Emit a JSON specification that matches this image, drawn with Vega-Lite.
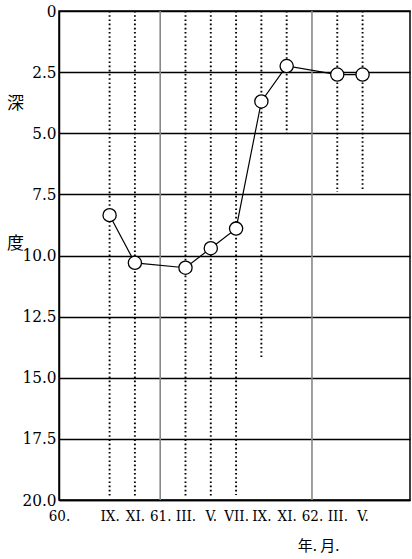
{
  "$schema": "https://vega.github.io/schema/vega-lite/v6.json",
  "width": 351,
  "height": 489,
  "autosize": {"type": "none"},
  "padding": {"left": 59, "top": 11, "right": 2, "bottom": 59},
  "background": "white",
  "config": {
    "view": {"stroke": "black", "strokeWidth": 1.5},
    "font": "Liberation Sans Narrow"
  },
  "datasets": {
    "pts": [
      {"m": 8, "depth": 8.35},
      {"m": 10, "depth": 10.3},
      {"m": 14, "depth": 10.5},
      {"m": 16, "depth": 9.7},
      {"m": 18, "depth": 8.9},
      {"m": 20, "depth": 3.7},
      {"m": 22, "depth": 2.25},
      {"m": 26, "depth": 2.6},
      {"m": 28, "depth": 2.6}
    ],
    "cols": [
      {"m": 8, "top": 0, "bottom": 19.9},
      {"m": 10, "top": 0, "bottom": 19.9},
      {"m": 14, "top": 0, "bottom": 19.9},
      {"m": 16, "top": 0, "bottom": 19.9},
      {"m": 18, "top": 0, "bottom": 19.8},
      {"m": 20, "top": 0, "bottom": 14.2},
      {"m": 22, "top": 0, "bottom": 5.0},
      {"m": 26, "top": 0, "bottom": 7.4},
      {"m": 28, "top": 0, "bottom": 7.3}
    ],
    "years": [
      {"m": 12, "top": 0, "bottom": 20},
      {"m": 24, "top": 0, "bottom": 20}
    ]
  },
  "encoding": {
    "x": {"field": "m", "type": "quantitative", "scale": {"domain": [4, 31.75], "nice": false, "zero": false},
      "axis": {
        "orient": "bottom",
        "values": [4, 8, 10, 12, 14, 16, 18, 20, 22, 24, 26, 28],
        "labelExpr": "datum.value == 4 ? '60.' : datum.value == 8 ? 'IX.' : datum.value == 10 ? 'XI.' : datum.value == 12 ? '61.' : datum.value == 14 ? 'III.' : datum.value == 16 ? 'V.' : datum.value == 18 ? 'VII.' : datum.value == 20 ? 'IX.' : datum.value == 22 ? 'XI.' : datum.value == 24 ? '62.' : datum.value == 26 ? 'III.' : 'V.'",
        "grid": false, "ticks": false, "domain": true, "domainColor": "black", "domainWidth": 1.5,
        "labelFont": "DejaVu Serif Condensed", "labelFontSize": 15, "labelColor": "black", "labelPadding": 8,
        "labelFlush": false, "labelOverlap": false, "labelBound": false,
        "title": "年. 月.", "titleFont": "Noto Sans CJK JP", "titleFontSize": 15, "titleFontWeight": "normal",
        "titleX": 259, "titleY": 45, "titleAlign": "center", "titleBaseline": "middle", "titleColor": "black"
      }}
  },
  "layer": [
    {
      "data": {"name": "years"},
      "mark": {"type": "rule", "color": "#888888", "strokeWidth": 1.6},
      "encoding": {
        "y": {"field": "top", "type": "quantitative", "scale": {"domain": [0, 20], "reverse": true, "nice": false},
          "axis": {
            "orient": "left",
            "values": [0, 2.5, 5, 7.5, 10, 12.5, 15, 17.5, 20],
            "labelExpr": "datum.value == 0 ? '0' : format(datum.value, '.1f')",
            "grid": true, "gridColor": "black", "gridWidth": 1.4, "gridOpacity": 1,
            "ticks": false, "domain": true, "domainColor": "black", "domainWidth": 1.5,
            "labelFont": "DejaVu Serif Condensed", "labelFontSize": 17, "labelColor": "black", "labelPadding": 3,
            "labelFlush": false, "labelOverlap": false,
            "title": ["深", "度"], "titleFont": "Noto Sans CJK JP", "titleFontSize": 17, "titleFontWeight": "normal",
            "titleAngle": 0, "titleLineHeight": 140, "titleX": -44, "titleY": 92, "titleAlign": "center",
            "titleBaseline": "middle", "titleColor": "black"
          }},
        "y2": {"field": "bottom"}
      }
    },
    {
      "data": {"name": "cols"},
      "mark": {"type": "rule", "color": "black", "strokeWidth": 1.9, "strokeDash": [1.6, 2.6]},
      "encoding": {
        "y": {"field": "top", "type": "quantitative"},
        "y2": {"field": "bottom"}
      }
    },
    {
      "data": {"name": "pts"},
      "mark": {"type": "line", "color": "black", "strokeWidth": 1.2},
      "encoding": {
        "y": {"field": "depth", "type": "quantitative"}
      }
    },
    {
      "data": {"name": "pts"},
      "mark": {"type": "point", "shape": "circle", "size": 175, "filled": false, "fill": "white", "fillOpacity": 1, "stroke": "black", "strokeWidth": 1.3, "opacity": 1},
      "encoding": {
        "y": {"field": "depth", "type": "quantitative"}
      }
    }
  ]
}
